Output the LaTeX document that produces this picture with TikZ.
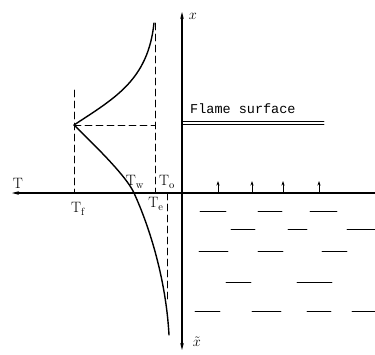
\documentclass[tikz,border=0pt]{standalone}
\usepackage{fontspec}
\newfontfamily\flamefont{Liberation Mono}
\usetikzlibrary{arrows.meta}

\begin{document}
\begin{tikzpicture}[x=1pt, y=-1pt, line cap=round, line join=round,
    axisline/.style={line width=1.1pt},
    profile/.style={line width=1.4pt},
    guide/.style={line width=0.7pt, dash pattern=on 7pt off 4pt},
    liquid/.style={line width=0.9pt},
    lbl/.style={inner sep=0pt, font=\fontsize{15}{17}\selectfont},
    tip/.style={-{Stealth[length=7pt,width=3.6pt]}}]

  %% ════ 坐标点 ════
  \coordinate (xtop)  at (182,12);
  \coordinate (xbot)  at (182,350);
  \coordinate (Tend)  at (12,193);
  \coordinate (rend)  at (375,193);
  \coordinate (peak)  at (74,125);
  \coordinate (top)   at (154,23);
  \coordinate (wall)  at (134,193);
  \coordinate (low)   at (169,335);
  \coordinate (ftop)  at (74,90);
  \coordinate (fbot)  at (74,193);
  \coordinate (otop)  at (155,23);
  \coordinate (obot)  at (155,193);
  \coordinate (omid)  at (155,125);
  \coordinate (etop)  at (167,193);
  \coordinate (ebot)  at (167,300);

  %% ════ 坐标轴 ════
  \draw[axisline, {Stealth[length=7pt,width=3.6pt]}-{Stealth[length=7pt,width=3.6pt]}] (xtop) -- (xbot);
  \draw[axisline, tip] (rend) -- (Tend);

  %% ════ 虚线 ════
  \draw[guide] (ftop) -- (fbot);
  \draw[guide] (otop) -- (obot);
  \draw[guide] (peak) -- (omid);
  \draw[guide] (etop) -- (ebot);

  %% ════ 温度曲线 ════
  \draw[profile] (peak) .. controls (115,98) and (148,80) .. (top);
  \draw[profile] (peak) .. controls (110,160) and (128,180) .. (wall)
                        .. controls (150,228) and (166,280) .. (low);

  %% ════ 火焰面（双线）════
  \draw[line width=0.7pt] (182,121) -- (324,121);
  \draw[line width=0.7pt] (182,124.5) -- (324,124.5);
  \node[inner sep=0pt, anchor=base west, font=\flamefont\fontsize{13.5}{16}\selectfont] (flame) at (190,113) {Flame surface};

  %% ════ 液面小箭头 ════
  \foreach \px [count=\i] in {218,252,283,319}{
    \coordinate (a\i) at (\px,193);
    \coordinate (b\i) at (\px,181);
    \draw[line width=0.7pt, -{Stealth[length=4.5pt,width=3pt]}] (a\i) -- (b\i);
  }

  %% ════ 液体短划线 ════
  \draw[liquid] (200,211) -- (226,211);
  \draw[liquid] (258,211) -- (282,211);
  \draw[liquid] (310,211) -- (337,211);
  \draw[liquid] (231,229) -- (255,229);
  \draw[liquid] (288,229) -- (307,229);
  \draw[liquid] (347,229) -- (375,229);
  \draw[liquid] (199,251) -- (228,251);
  \draw[liquid] (258,251) -- (283,251);
  \draw[liquid] (322,251) -- (347,251);
  \draw[liquid] (226,282) -- (251,282);
  \draw[liquid] (297,282) -- (332,282);
  \draw[liquid] (195,311) -- (220,311);
  \draw[liquid] (252,311) -- (281,311);
  \draw[liquid] (307,311) -- (331,311);
  \draw[liquid] (352,311) -- (375,311);

  %% ════ 标签 ════
  \node[lbl] (Tlbl)  at (18,183)  {T};
  \node[lbl] (Tf)    at (78,209)  {T$_{\mathrm f}$};
  \node[lbl] (Tw)    at (135,182) {T$_{\mathrm w}$};
  \node[lbl] (To)    at (167,182) {T$_{\mathrm o}$};
  \node[lbl] (Te)    at (156,204) {T$_{\mathrm e}$};
  \node[lbl] (xlbl)  at (193,16)  {$x$};
  \node[lbl] (xtlbl) at (197,342) {$\tilde{x}$};

  % 钉死画布
  \pgfresetboundingbox
  \path[use as bounding box] (0,0) rectangle (375,354);
\end{tikzpicture}
\end{document}
